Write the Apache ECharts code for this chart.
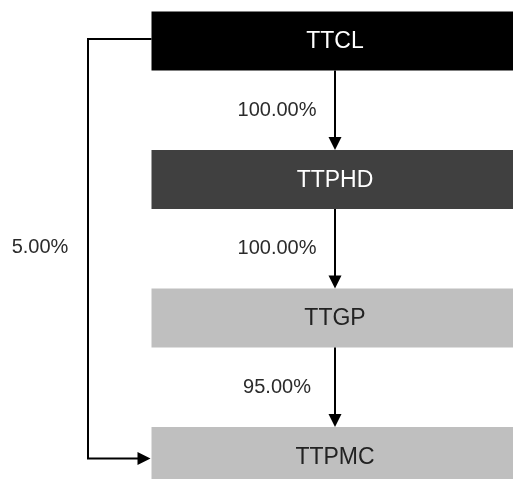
<!DOCTYPE html>
<html>
<head>
<meta charset="utf-8">
<script src="https://cdn.jsdelivr.net/npm/echarts@6/dist/echarts.min.js"></script>
<style>html,body{margin:0;padding:0;background:#fff}#c{width:513px;height:479px}</style>
</head>
<body>
<div id="c"></div>
<script>
// ---- data ----
const nodeNames = ['TTCL', 'TTPHD', 'TTGP', 'TTPMC'];
const nodeLevels = [0, 1, 2, 3];
const linkFrom = [0, 1, 2, 0];
const linkTo = [1, 2, 3, 3];
const linkPct = [100, 100, 95, 5];

// ---- layout / style ----
const nodeFill = ['#000000', '#404040', '#bfbfbf', '#bfbfbf'];
const nodeText = ['#ffffff', '#ffffff', '#222222', '#222222'];
const BOX_LEFT = 151.5, BOX_RIGHT = 520, CENTER_X = 335, ELBOW_X = 88;
const BOX_HALF = 0.213; // in level units
const LABEL_CX = 277, SIDE_LABEL_CX = 40;
const FONT = '"Liberation Sans", Arial, sans-serif';

const chart = echarts.init(document.getElementById('c'), null, {renderer: 'canvas'});

const nodeData = nodeNames.map((n, i) => [nodeLevels[i], i]);
const linkData = linkFrom.map((f, i) => [nodeLevels[f], nodeLevels[linkTo[i]], linkPct[i], i]);

function arrowHead(tip, dir) {
  const L = 13, W = 6.5;
  let pts;
  if (dir === 'down') pts = [[tip[0], tip[1]], [tip[0] - W, tip[1] - L], [tip[0] + W, tip[1] - L]];
  else pts = [[tip[0], tip[1]], [tip[0] - L, tip[1] - W], [tip[0] - L, tip[1] + W]];
  return {type: 'polygon', shape: {points: pts}, style: {fill: '#000'}};
}

chart.setOption({
  animation: false,
  grid: {left: 0, right: 0, top: 41, bottom: 22.5},
  xAxis: {type: 'value', min: 0, max: 513, show: false},
  yAxis: {type: 'value', min: 0, max: 3, inverse: true, show: false},
  series: [
    {
      type: 'custom',
      clip: false,
      data: nodeData,
      renderItem: function (params, api) {
        const lv = api.value(0), idx = api.value(1);
        const tl = api.coord([BOX_LEFT, lv - BOX_HALF]);
        const br = api.coord([BOX_RIGHT, lv + BOX_HALF]);
        const c = api.coord([CENTER_X, lv]);
        return {
          type: 'group',
          children: [
            {type: 'rect', shape: {x: tl[0], y: tl[1], width: br[0] - tl[0], height: br[1] - tl[1]},
             style: {fill: nodeFill[idx]}},
            {type: 'text', style: {text: nodeNames[idx], x: c[0], y: c[1] + 1, align: 'center', verticalAlign: 'middle',
             fill: nodeText[idx], font: '23px ' + FONT}}
          ]
        };
      }
    },
    {
      type: 'custom',
      clip: false,
      data: linkData,
      renderItem: function (params, api) {
        const a = api.value(0), b = api.value(1), pct = api.value(2);
        const label = pct.toFixed(2) + '%';
        const children = [];
        if (b - a === 1) {
          const p1 = api.coord([CENTER_X, a + BOX_HALF]);
          const p2 = api.coord([CENTER_X, b - BOX_HALF]);
          children.push({type: 'line', shape: {x1: p1[0], y1: p1[1], x2: p2[0], y2: p2[1] - 8}, style: {stroke: '#000', lineWidth: 2}});
          children.push(arrowHead([p2[0], p2[1]], 'down'));
          const lp = api.coord([LABEL_CX, (a + b) / 2]);
          children.push({type: 'text', style: {text: label, x: lp[0], y: lp[1], align: 'center', verticalAlign: 'middle',
            fill: '#2b2b2b', font: '20px ' + FONT}});
        } else {
          const s = api.coord([BOX_LEFT, a]);
          const e1 = api.coord([ELBOW_X, a]);
          const e2 = api.coord([ELBOW_X, b]);
          const t = api.coord([BOX_LEFT, b]);
          children.push({type: 'polyline', shape: {points: [[s[0], s[1] - 2], [e1[0], e1[1] - 2], [e2[0], e2[1] + 2], [t[0] - 8, t[1] + 2]]},
            style: {stroke: '#000', lineWidth: 2, fill: null}});
          children.push(arrowHead([t[0] - 1, t[1] + 2], 'right'));
          const lp = api.coord([SIDE_LABEL_CX, (a + b) / 2]);
          children.push({type: 'text', style: {text: label, x: lp[0], y: lp[1] - 1, align: 'center', verticalAlign: 'middle',
            fill: '#2b2b2b', font: '20px ' + FONT}});
        }
        return {type: 'group', children: children};
      }
    }
  ]
});
</script>
</body>
</html>
